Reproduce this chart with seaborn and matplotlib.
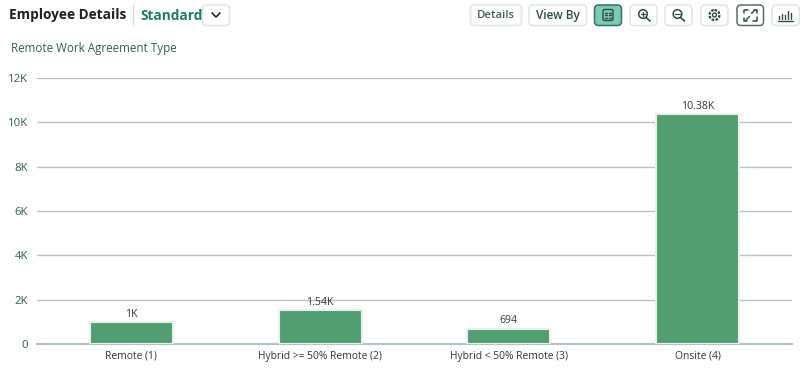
import matplotlib
matplotlib.use("Agg")
import matplotlib.pyplot as plt
from matplotlib.patches import FancyBboxPatch, Circle
import pandas as pd
import seaborn as sns

categories = ["Remote (1)", "Hybrid >= 50% Remote (2)", "Hybrid < 50% Remote (3)", "Onsite (4)"]
values = [1000, 1540, 694, 10380]
value_labels = ["1K", "1.54K", "694", "10.38K"]
y_ticks = [0, 2000, 4000, 6000, 8000, 10000, 12000]
y_tick_labels = ["0", "2K", "4K", "6K", "8K", "10K", "12K"]
title_main = "Employee Details"
title_variant = "Standard"
chart_title = "Remote Work Agreement Type"
buttons = ["Details", "View By"]

sns.set_theme(style="white")
plt.rcParams["font.family"] = ["Open Sans", "DejaVu Sans"]

W, H = 800, 370
fig = plt.figure(figsize=(W / 100, H / 100), dpi=100, facecolor="white")
ax = fig.add_axes([37 / W, 1 - 344 / H, 755 / W, 266 / H])

df = pd.DataFrame({"type": categories, "count": values})
sns.barplot(data=df, x="type", y="count", ax=ax, color="#539E71", saturation=1,
            width=0.44, edgecolor="#EAF1ED", linewidth=1.5, zorder=3)
ax.set_ylim(0, 12000)
ax.set_xlim(-0.5, 3.5)
ax.set_yticks(y_ticks)
ax.set_yticklabels(y_tick_labels, fontsize=8.2, color="#2F5D52")
ax.set_xticks(range(len(categories)))
ax.set_xticklabels(categories, fontsize=7.4, color="#32363A")
ax.set_xlabel("")
ax.set_ylabel("")
ax.tick_params(axis="both", length=0)
ax.tick_params(axis="x", pad=5)
ax.tick_params(axis="y", pad=6.5)
ax.grid(axis="y", color="#B4C3CC", linewidth=1, zorder=0)
for side in ["top", "right", "left"]:
    ax.spines[side].set_visible(False)
ax.spines["bottom"].set_color("#B4C3CC")
ax.spines["bottom"].set_linewidth(1.6)
ax.set_axisbelow(True)
for i, (v, lab) in enumerate(zip(values, value_labels)):
    ax.annotate(lab, (i, v), xytext=(0, 1.6), textcoords="offset points",
                ha="center", va="bottom", fontsize=7.6, color="#32363A", zorder=5)

# Page chrome, laid out in pixel coordinates
ui = fig.add_axes([0, 0, 1, 1], zorder=10)
ui.set_xlim(0, W)
ui.set_ylim(H, 0)
ui.axis("off")
ui.patch.set_alpha(0)

ui.text(9, 15.5, title_main, fontsize=9.8, fontweight="bold", color="#1A1F26", va="center")
ui.plot([132.5, 132.5], [5, 25], color="#D5DADD", lw=1)
ui.text(140, 15.5, title_variant, fontsize=9.8, fontweight="bold", color="#1B7F5C", va="center")
ui.text(11, 48.5, chart_title, fontsize=8.4, color="#2F5D52", va="center")


def button(x0, x1, active=False, outlined=False):
    fc = "#78CBB4" if active else "white"
    ec = "#3D6E62" if active else ("#55716A" if outlined else "#DFE3E5")
    ui.add_patch(FancyBboxPatch((x0, 5), x1 - x0, 20.5, boxstyle="round,pad=0,rounding_size=4",
                                fc=fc, ec=ec, lw=1.1))


button(202.5, 229.5)
ui.plot([212, 216, 220], [13, 17, 13], color="#1D2D3E", lw=1.2)

button(470.5, 521.5)
ui.text(496, 15, buttons[0], fontsize=8.2, fontweight="semibold", color="#47605A", ha="center", va="center")
button(529, 586.5)
ui.text(557.5, 15, buttons[1], fontsize=8.5, fontweight="semibold", color="#2F4A44", ha="center", va="center")

IC = "#2F4A44"
# table view toggle
button(594.5, 621.5, active=True)
ui.add_patch(FancyBboxPatch((603, 9.5), 10, 11, boxstyle="round,pad=0,rounding_size=1.5", fc="none", ec=IC, lw=1))
for yy in (12.5, 15, 17.5):
    ui.plot([605, 606.5], [yy, yy], color=IC, lw=1)
    ui.plot([608.5, 611], [yy, yy], color=IC, lw=1)

# zoom in
button(630, 657)
ui.add_patch(Circle((643, 14), 4.3, fc="none", ec=IC, lw=1.1))
ui.plot([646, 650], [17.5, 21], color=IC, lw=1.2)
ui.plot([640.7, 645.3], [14, 14], color=IC, lw=0.9)
ui.plot([643, 643], [11.7, 16.3], color=IC, lw=0.9)

# zoom out
button(665, 692)
ui.add_patch(Circle((677.5, 14), 4.3, fc="none", ec=IC, lw=1.1))
ui.plot([680.5, 684.5], [17.5, 21], color=IC, lw=1.2)
ui.plot([675.2, 679.8], [14, 14], color=IC, lw=0.9)

# settings
button(701, 728)
ui.add_patch(Circle((714.5, 15), 5, fc="none", ec=IC, lw=1.6, ls=(0, (1.2, 0.6))))
ui.add_patch(Circle((714.5, 15), 2, fc="none", ec=IC, lw=1))

# fit
button(737, 763.5, outlined=True)
for xs, ys in [([744, 744, 748], [13, 9.5, 9.5]), ([757, 757, 753], [17, 20.5, 20.5]),
               ([744, 744, 747], [17.5, 20.5, 20.5]), ([754, 757, 757], [9.5, 9.5, 12.5])]:
    ui.plot(xs, ys, color=IC, lw=1.1)
ui.plot([751.5, 755], [13.5, 10], color=IC, lw=1)
ui.plot([746, 749.5], [20, 16.5], color=IC, lw=1)

# chart type
button(772, 799)
for xx, top in zip((779, 782, 785, 788, 791), (16, 13.5, 15, 10.5, 12.5)):
    ui.plot([xx, xx], [top, 19], color=IC, lw=1)
ui.plot([777.5, 793], [20.5, 20.5], color=IC, lw=1)

fig.savefig("out.png", dpi=100, facecolor="white")
